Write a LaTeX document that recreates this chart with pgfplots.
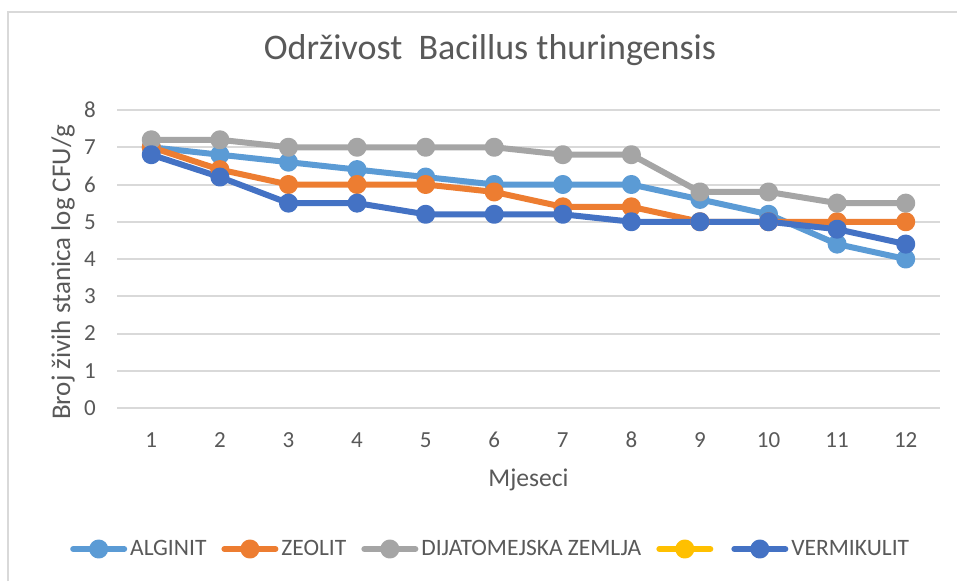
\documentclass[border=0pt]{standalone}
\usepackage{fontspec}
\setmainfont{Carlito}
\usepackage{pgfplots}
\pgfplotsset{compat=1.18}
\definecolor{txt}{HTML}{595959}
\definecolor{gridc}{HTML}{D9D9D9}
\definecolor{cA}{HTML}{5B9BD5}
\definecolor{cZ}{HTML}{ED7D31}
\definecolor{cD}{HTML}{A5A5A5}
\definecolor{cY}{HTML}{FFC000}
\definecolor{cV}{HTML}{4472C4}
\begin{document}
\begin{tikzpicture}
\path[use as bounding box] (0pt,0pt) rectangle (957pt,581pt);
\fill[white] (0pt,0pt) rectangle (957pt,581pt);
\draw[color=gridc, line width=2pt] (8pt,0pt) -- (8pt,569pt) -- (957pt,569pt);
\begin{axis}[
  at={(117pt,173pt)}, anchor=south west,
  scale only axis, width=823pt, height=298pt,
  xmin=0.5, xmax=12.5, ymin=0, ymax=8,
  xtick={1,...,12}, ytick={0,...,8},
  axis line style={draw=none},
  major tick length=0pt,
  ymajorgrids, grid style={color=gridc, line width=2pt},
  /pgf/number format/assume math mode=true,
  tick label style={font=\fontsize{23}{27}\selectfont, text=txt, inner sep=0pt},
  yticklabel style={anchor=east, xshift=-21pt},
  xticklabel style={anchor=base, yshift=-39pt},
  title={Održivost\ \ Bacillus thuringensis},
  title style={at={(axis description cs:0.4532,1.151)}, anchor=base, inner sep=0pt,
    font=\fontsize{36}{43}\selectfont, text=txt},
  xlabel={Mjeseci},
  xlabel style={at={(axis description cs:0.5,-0.2650)}, anchor=base, inner sep=0pt,
    font=\fontsize{25.6}{30}\selectfont, text=txt},
  ylabel={Broj živih stanica log CFU/g},
  ylabel style={at={(axis description cs:-0.0571,0.455)}, anchor=base, inner sep=0pt,
    font=\fontsize{27}{31}\selectfont, text=txt},
  every axis plot/.append style={line width=6pt, line join=round, mark=*, mark size=6.5pt},
  legend columns=5,
  legend image code/.code={\path (0pt,0pt) -- (51pt,0pt);\draw[#1, line cap=round, mark repeat=2, mark phase=2] plot coordinates {(0pt,0pt) (25.5pt,0pt) (51pt,0pt)};},
  legend style={at={(axis description cs:-0.0571,-0.4732)}, anchor=west, draw=none, fill=none,
    inner sep=0pt, column sep=0pt, font=\fontsize{23.5}{28}\selectfont, text=txt,
    nodes={inner sep=3pt, anchor=west},
    /tikz/every even column/.append style={column sep=12pt}},
]
\addplot[color=cA] coordinates {(1,7.0) (2,6.8) (3,6.6) (4,6.4) (5,6.2) (6,6.0) (7,6.0) (8,6.0) (9,5.6) (10,5.2) (11,4.4) (12,4.0)};
\addlegendentry{ALGINIT}
\addplot[color=cZ] coordinates {(1,7.0) (2,6.4) (3,6.0) (4,6.0) (5,6.0) (6,5.8) (7,5.4) (8,5.4) (9,5.0) (10,5.0) (11,5.0) (12,5.0)};
\addlegendentry{ZEOLIT}
\addplot[color=cD] coordinates {(1,7.2) (2,7.2) (3,7.0) (4,7.0) (5,7.0) (6,7.0) (7,6.8) (8,6.8) (9,5.8) (10,5.8) (11,5.5) (12,5.5)};
\addlegendentry{DIJATOMEJSKA ZEMLJA}
\addlegendimage{color=cY, line width=6pt, mark=*, mark size=6.5pt}
\addlegendentry{}
\addplot[color=cV] coordinates {(1,6.8) (2,6.2) (3,5.5) (4,5.5) (5,5.2) (6,5.2) (7,5.2) (8,5.0) (9,5.0) (10,5.0) (11,4.8) (12,4.4)};
\addlegendentry{VERMIKULIT}
\end{axis}
\end{tikzpicture}
\end{document}
